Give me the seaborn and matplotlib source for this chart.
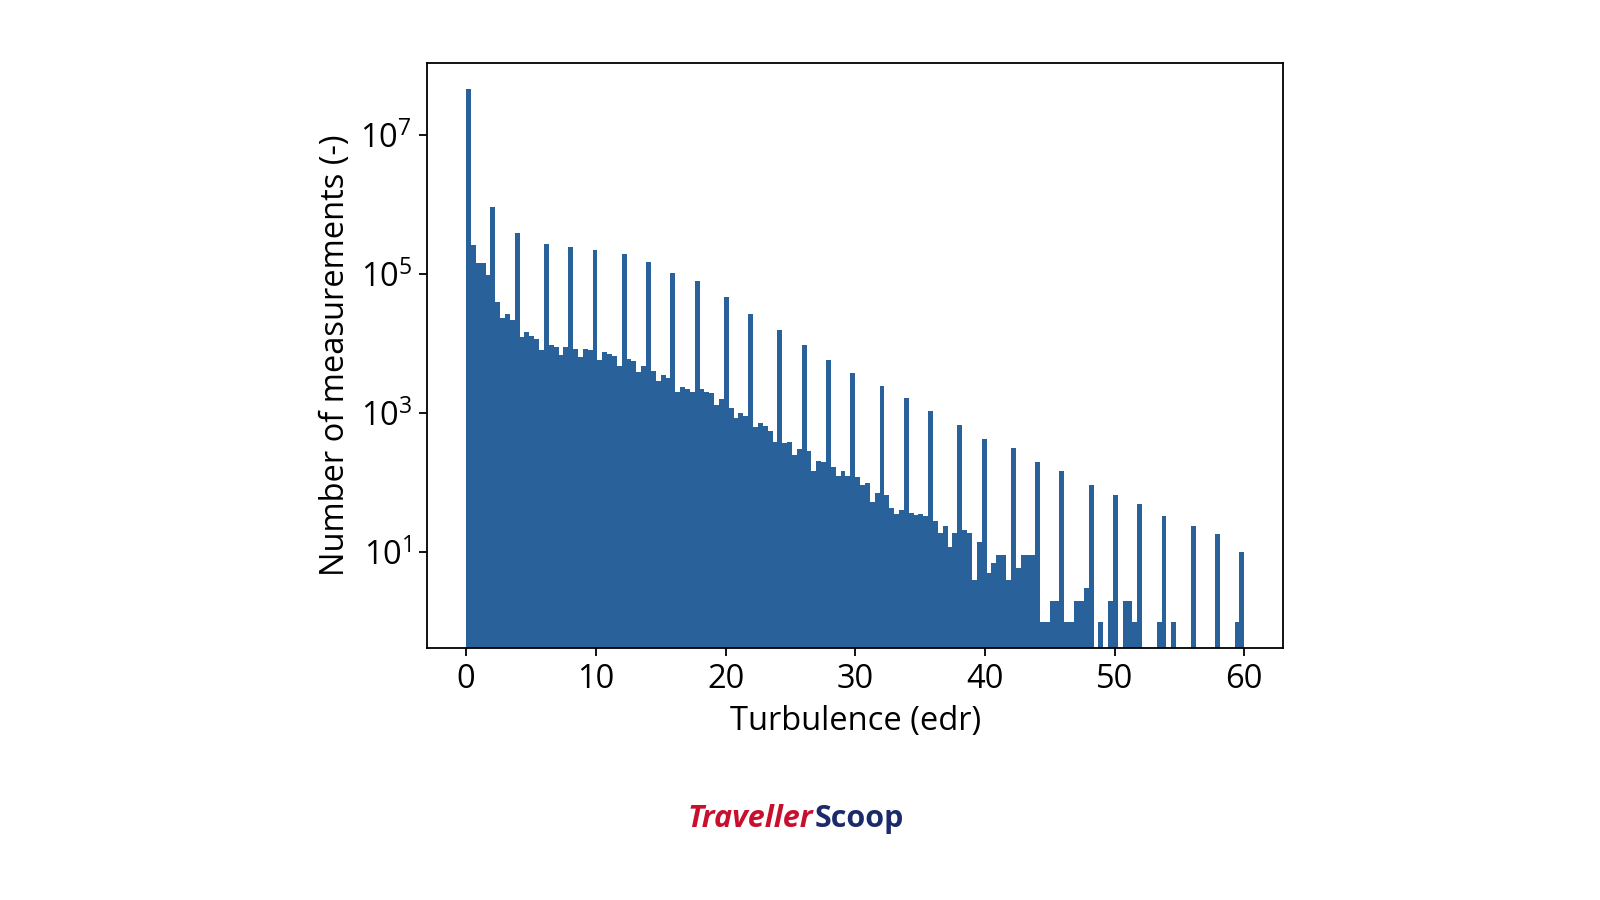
import numpy as np
import pandas as pd
import seaborn as sns
import matplotlib.pyplot as plt
from matplotlib.ticker import LogFormatterSciNotation, NullLocator

# histogram of turbulence (edr) values, 160 bins between 0 and 60
bin_lo = 0.0
bin_hi = 60.0
n_bins = 160

# counts per bin (log scale)
counts = [
    4.7e7, 2.62e5, 1.43e5, 1.43e5, 9.75e4, 9.2e5, 4.01e4, 2.38e4, 2.64e4, 2.18e4,
    3.89e5, 1.23e4, 1.46e4, 1.31e4, 1.17e4, 8.2e3, 2.69e5, 9.6e3, 9.1e3, 6.8e3,
    8.9e3, 2.46e5, 8.5e3, 6.5e3, 8.5e3, 8.2e3, 2.22e5, 5.9e3, 7.7e3, 7.0e3,
    6.7e3, 4.8e3, 1.96e5, 6.0e3, 5.6e3, 3.9e3, 4.8e3, 1.48e5, 4.1e3, 2.9e3,
    3.5e3, 3.25e3, 1.04e5, 2.04e3, 2.4e3, 2.25e3, 1.99e3, 8.05e4, 2.2e3, 2.03e3,
    1.92e3, 1.30e3, 1.59e3, 4.72e4, 1.18e3, 850, 1.02e3, 915, 2.69e4, 635,
    718, 658, 557, 386, 1.58e4, 366, 386, 251, 310, 9.6e3,
    281, 145, 206, 195, 5.9e3, 169, 123, 145, 123, 3.76e3,
    119, 93, 98, 53, 71, 2.42e3, 66, 43, 35, 40,
    1.64e3, 37, 34, 35, 33, 1.09e3, 28, 19, 24, 12,
    19, 671, 21, 19, 4, 14, 423, 5, 7, 9,
    9, 4, 313, 6, 9, 9, 9, 200, 1, 1,
    2, 2, 145, 1, 1, 2, 2, 3, 92, 0,
    1, 0, 2, 66, 0, 2, 2, 1, 50, 0,
    0, 0, 1, 33, 0, 1, 0, 0, 0, 24,
    0, 0, 0, 0, 18, 0, 0, 0, 1, 10,
]

width = (bin_hi - bin_lo) / n_bins
edges = np.linspace(bin_lo, bin_hi, n_bins + 1)
df = pd.DataFrame({"edr": (edges[:-1] + edges[1:]) / 2, "n": counts})

sns.set_theme(style="ticks")
plt.rcParams["font.family"] = ["Open Sans", "DejaVu Sans"]
plt.rcParams["mathtext.fontset"] = "custom"
plt.rcParams["mathtext.rm"] = "Open Sans"
plt.rcParams["mathtext.it"] = "Open Sans:italic"

fig = plt.figure(figsize=(16, 9), dpi=100)
ax = fig.add_axes([0.267, 0.28, 0.535, 0.65])

sns.histplot(data=df, x="edr", weights="n", binwidth=width, binrange=(bin_lo, bin_hi),
             color="#29629a", alpha=1, linewidth=0, ax=ax)
ax.set_yscale("log")

ax.set_xlim(-3, 63)
ax.set_ylim(10 ** -0.38, 10 ** 8.04)
ax.set_yticks([1e1, 1e3, 1e5, 1e7])
ax.yaxis.set_major_formatter(LogFormatterSciNotation())
ax.yaxis.set_minor_locator(NullLocator())
ax.set_xticks([0, 10, 20, 30, 40, 50, 60])

for s in ax.spines.values():
    s.set_linewidth(1.3)
    s.set_color("black")
ax.tick_params(axis="both", labelsize=23.5, length=6, width=1.3, color="black",
               labelcolor="black", direction="out", pad=5)
ax.set_xlabel("Turbulence (edr)", fontsize=23.5, color="black", labelpad=6)
ax.set_ylabel("Number of measurements (-)", fontsize=23.5, color="black", labelpad=6)

# source logo
fig.text(0.508, 0.09, "Traveller", color="#c8102e", fontsize=22, fontweight="bold",
         fontstyle="italic", ha="right", va="center")
fig.text(0.509, 0.09, "Scoop", color="#1b2a6b", fontsize=22, fontweight="bold",
         ha="left", va="center")

fig.savefig("out.png", dpi=100, facecolor="white")
